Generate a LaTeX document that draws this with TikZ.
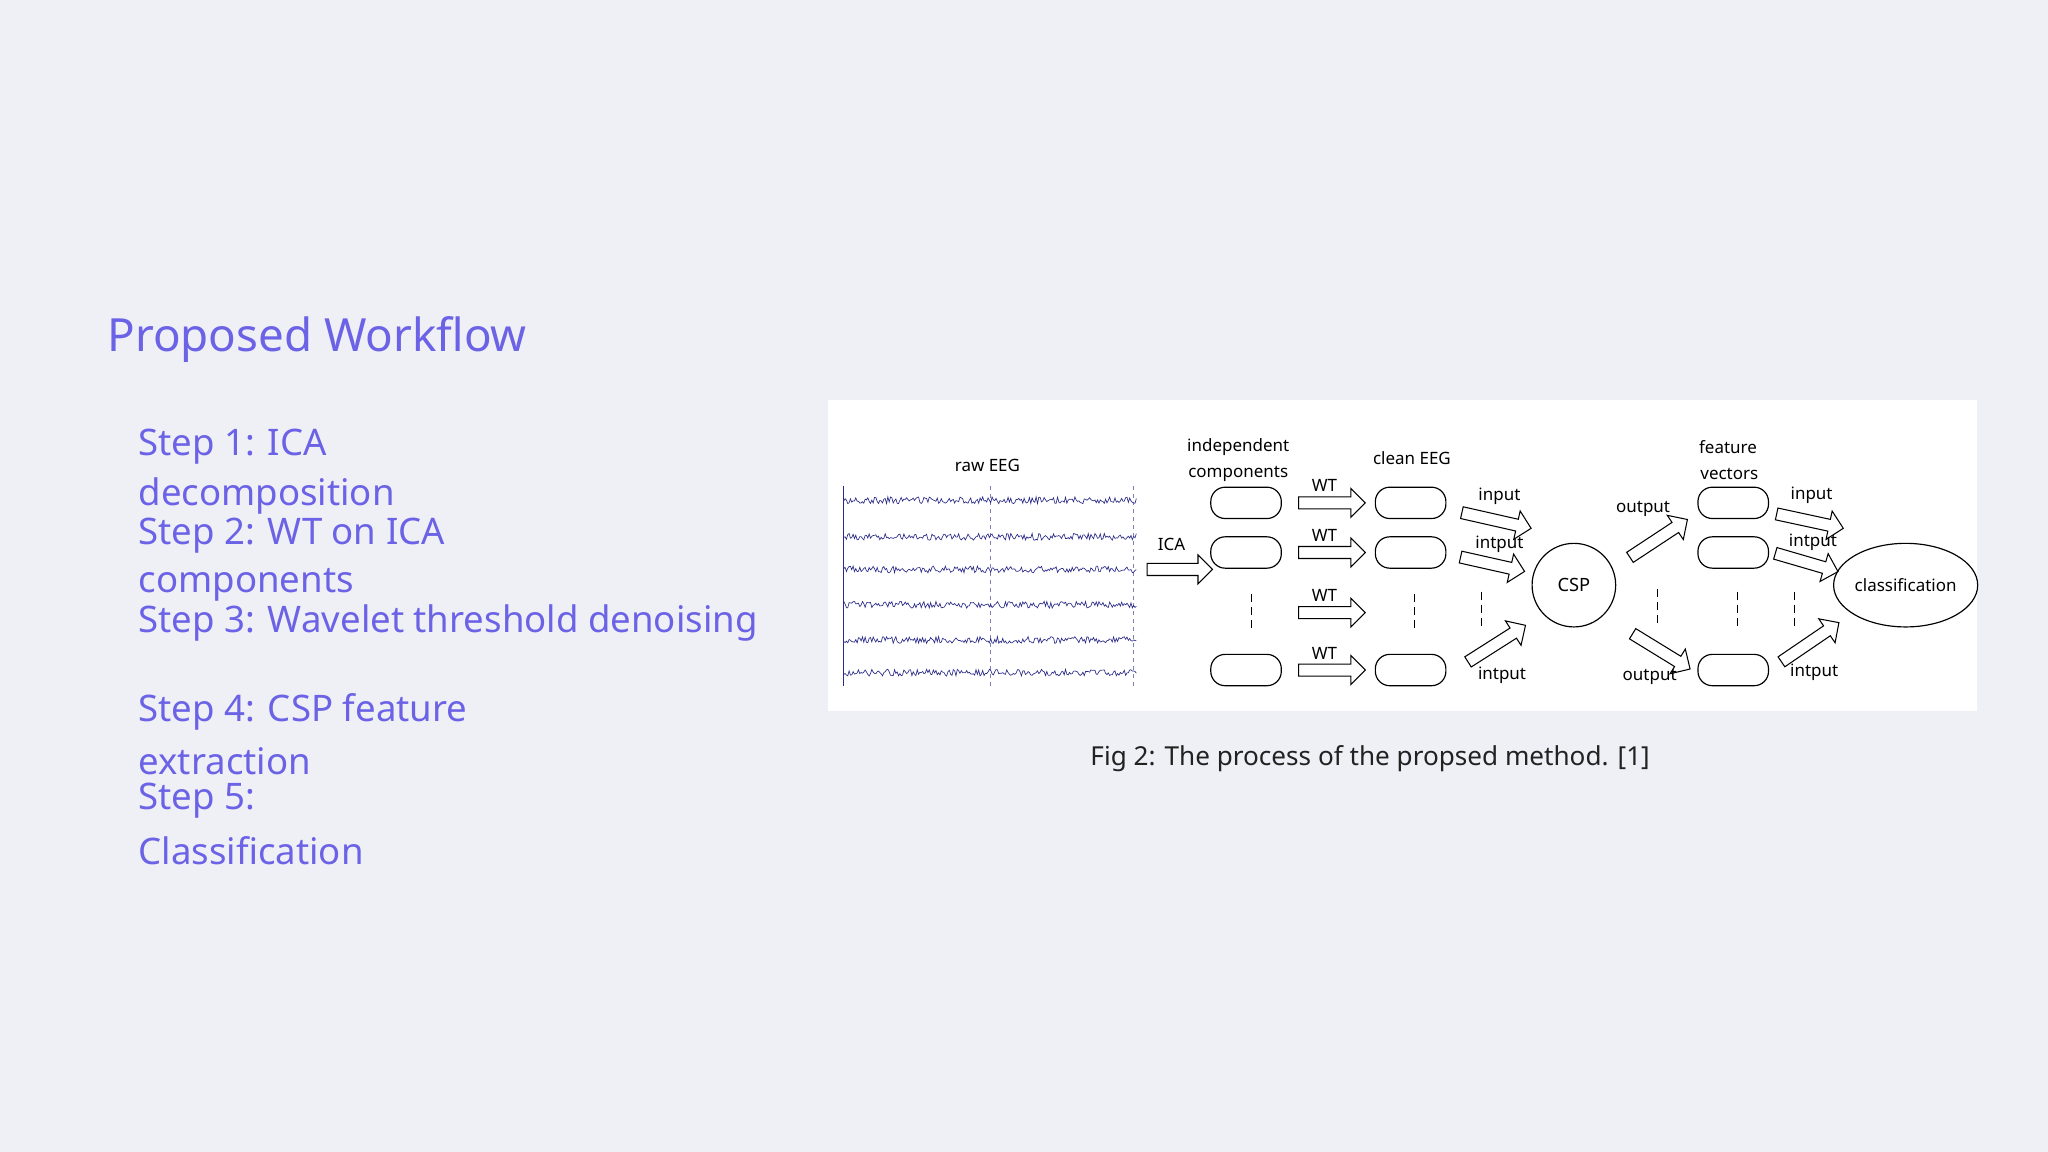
\documentclass[tikz,border=0pt]{standalone}
\usepackage{fontspec}
\setmainfont{Noto Sans}
\usetikzlibrary{shapes.arrows,shapes.geometric,calc}
\definecolor{bg}{HTML}{EFF0F6}
\definecolor{accent}{HTML}{6B62E6}
\definecolor{eeg}{HTML}{2A2A88}
\definecolor{cap}{HTML}{222222}
\tikzset{
  stepline/.style={anchor=west,text=accent,font=\fontsize{28}{30}\selectfont\bfseries,inner sep=0},
  lab/.style={font=\fontsize{13}{14}\selectfont\bfseries,inner sep=0},
  wtlab/.style={font=\fontsize{13}{14}\selectfont,inner sep=0},
  comp/.style={draw,rounded corners=11pt,minimum width=54pt,minimum height=24pt,inner sep=0,line width=0.9pt},
  fat/.style={draw,single arrow,inner sep=4.2pt,single arrow head extend=6.5pt,line width=0.8pt,fill=white,shape border rotate=0},
  vdash/.style={dashed,line width=0.8pt,dash pattern=on 6pt off 4pt},
}
\newcommand{\fatarrow}[2]{%
  \path let \p1=(#1), \p2=(#2), \n1={atan2(\y2-\y1,\x2-\x1)}, \n2={veclen(\x2-\x1,\y2-\y1)} in
    node[fat,rotate=\n1,minimum height=\n2] at ($(#1)!0.5!(#2)$) {};}
\begin{document}
\begin{tikzpicture}[x=1pt,y=-1pt]
\useasboundingbox (0,0) rectangle (1568,882);
\fill[bg] (0,0) rectangle (1568,882);
\node[anchor=west,text=accent,font=\fontsize{35}{38}\selectfont\bfseries,inner sep=0] (title) at (82,260) {Proposed Workflow};
\node[stepline] (s1a) at (106,342) {Step 1: ICA};
\node[stepline] (s1b) at (106,380) {decomposition};
\node[stepline] (s2a) at (106,410) {Step 2: WT on ICA};
\node[stepline] (s2b) at (106,448) {components};
\node[stepline] (s3) at (106,477) {Step 3: Wavelet threshold denoising};
\node[stepline] (s4a) at (106,545) {Step 4: CSP feature};
\node[stepline] (s4b) at (106,583) {extraction};
\node[stepline] (s5a) at (106,613) {Step 5:};
\node[stepline] (s5b) at (106,651) {Classification};
% figure
\fill[white] (634,306) rectangle (1514,544);
\node[font=\fontsize{20}{22}\selectfont,text=cap,inner sep=0] (caption) at (1049,581) {Fig 2: The process of the propsed method. [1]};
% EEG
\node[lab] (raw) at (756,356) {raw EEG};
\draw[eeg,line width=1pt] (646,372) -- (646,525);
\draw[eeg!60,dashed,line width=0.8pt] (758,372) -- (758,525);
\draw[eeg!60,dashed,line width=0.8pt] (868,372) -- (868,525);
\pgfmathsetseed{7}
\foreach \yy in {383,411,436,463,490,515}{
  \draw[eeg,line width=0.5pt] plot[domain=646:870,samples=220] (\x,{\yy+2.6*rand});
}
\coordinate (ica1) at (876,436); \coordinate (ica2) at (926,436);
\fatarrow{ica1}{ica2}
\node[wtlab] (ical) at (897,417) {ICA};
% independent components
\node[lab] (indep) at (948,342) {independent};
\node[lab] (indep2) at (948,363) {components};
\node[comp] (c1) at (954,385) {};
\node[comp] (c2) at (954,423) {};
\node[comp] (c3) at (954,513) {};
\draw[vdash] (958,455) -- (958,482);
\foreach \yy/\k in {385/a,423/b,469/c,513/d}{
  \coordinate (wt\k1) at (992,\yy); \coordinate (wt\k2) at (1043,\yy);
  \fatarrow{wt\k1}{wt\k2}
  \node[wtlab] (wtl\k) at (1014,\yy-13) {WT};
}
% clean EEG
\node[lab] (clean) at (1081,351) {clean EEG};
\node[comp] (e1) at (1080,385) {};
\node[comp] (e2) at (1080,423) {};
\node[comp] (e3) at (1080,513) {};
\draw[vdash] (1083,455) -- (1083,482);
\draw[vdash] (1134,453) -- (1134,482);
\coordinate (i1a) at (1117,392); \coordinate (i1b) at (1170,404); \fatarrow{i1a}{i1b}
\coordinate (i2a) at (1116,426); \coordinate (i2b) at (1165,437); \fatarrow{i2a}{i2b}
\coordinate (i3a) at (1122,508); \coordinate (i3b) at (1166,480); \fatarrow{i3a}{i3b}
\node[lab] (in1) at (1148,380) {input};
\node[lab] (in2) at (1148,417) {intput};
\node[lab] (in3) at (1150,517) {intput};
% CSP
\node[draw,circle,minimum size=64pt,inner sep=0,line width=0.9pt,font=\fontsize{14}{15}\selectfont] (csp) at (1205,448) {CSP};
\coordinate (o1a) at (1246,428); \coordinate (o1b) at (1290,399); \fatarrow{o1a}{o1b}
\coordinate (o2a) at (1248,484); \coordinate (o2b) at (1292,511); \fatarrow{o2a}{o2b}
\node[lab] (out1) at (1258,390) {output};
\node[lab] (out2) at (1263,518) {output};
\draw[vdash] (1269,451) -- (1269,480);
% feature vectors
\node[lab] (feat) at (1323,342) {feature};
\node[lab] (feat2) at (1324,363) {vectors};
\node[comp] (f1) at (1327,385) {};
\node[comp] (f2) at (1327,423) {};
\node[comp] (f3) at (1327,513) {};
\draw[vdash] (1330,453) -- (1330,482);
\draw[vdash] (1374,453) -- (1374,482);
\coordinate (j1a) at (1358,393); \coordinate (j1b) at (1409,404); \fatarrow{j1a}{j1b}
\coordinate (j2a) at (1357,423); \coordinate (j2b) at (1405,437); \fatarrow{j2a}{j2b}
\coordinate (j3a) at (1362,508); \coordinate (j3b) at (1406,478); \fatarrow{j3a}{j3b}
\node[lab] (jn1) at (1387,379) {input};
\node[lab] (jn2) at (1388,415) {intput};
\node[lab] (jn3) at (1389,515) {intput};
% classification
\node[draw,ellipse,minimum width=102pt,minimum height=64pt,inner sep=0,line width=0.9pt,lab] (cls) at (1459,448) {classification};
\end{tikzpicture}
\end{document}
